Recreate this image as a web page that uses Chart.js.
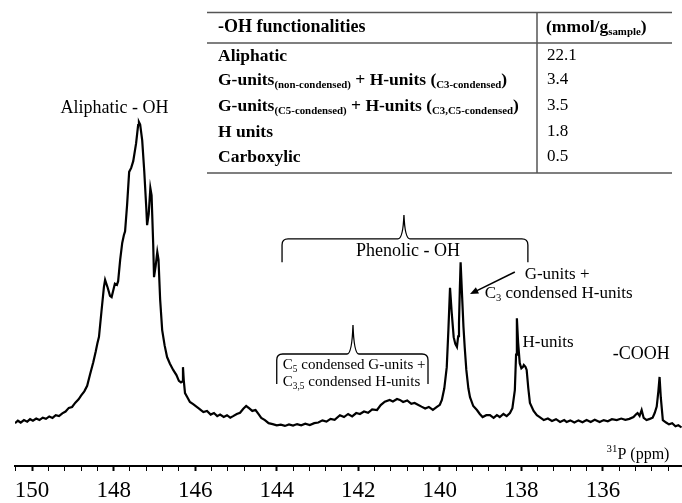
<!DOCTYPE html>
<html lang="en">
<head>
<meta charset="UTF-8">
<title>31P NMR spectrum</title>
<script src="https://cdn.jsdelivr.net/npm/chart.js"></script>
<style>
  html, body { margin: 0; padding: 0; background: #fff; }
  #wrap { width: 682px; height: 503px; }
</style>
</head>
<body>
<div id="wrap"><canvas id="nmrChart" width="682" height="503"></canvas></div>
<script>
// chemical shift (ppm) and relative intensity
const ppm = [
  150.42, 150.35, 150.28, 150.20, 150.12, 150.05, 149.98, 149.90, 149.82, 149.74,
  149.66, 149.58, 149.50, 149.42, 149.34, 149.26, 149.18, 149.10, 149.02, 148.94,
  148.86, 148.80, 148.72, 148.65, 148.58, 148.50, 148.44, 148.40, 148.36, 148.30,
  148.24, 148.21, 148.15, 148.09, 148.05, 148.00, 147.97, 147.92, 147.89, 147.84,
  147.79, 147.75, 147.72, 147.67, 147.62, 147.57, 147.52, 147.45, 147.40, 147.38,
  147.35, 147.30, 147.25, 147.20, 147.18, 147.14, 147.10, 147.07, 147.03, 147.01,
  146.97, 146.93, 146.90, 146.86, 146.81, 146.75, 146.69, 146.62, 146.54, 146.46,
  146.40, 146.35, 146.32, 146.30, 146.28, 146.25, 146.19, 146.13, 146.05, 145.97,
  145.89, 145.80, 145.71, 145.62, 145.54, 145.46, 145.39, 145.30, 145.22, 145.14,
  145.07, 144.98, 144.90, 144.82, 144.75, 144.68, 144.60, 144.52, 144.45, 144.38,
  144.29, 144.20, 144.10, 144.00, 143.90, 143.80, 143.70, 143.60, 143.50, 143.40,
  143.30, 143.19, 143.08, 142.98, 142.88, 142.78, 142.68, 142.58, 142.45, 142.35,
  142.25, 142.15, 142.05, 141.96, 141.86, 141.76, 141.66, 141.54, 141.45, 141.35,
  141.23, 141.15, 141.05, 140.98, 140.90, 140.80, 140.70, 140.62, 140.56, 140.45,
  140.36, 140.27, 140.17, 140.08, 140.00, 139.95, 139.89, 139.83, 139.79, 139.75,
  139.71, 139.66, 139.62, 139.58, 139.55, 139.53, 139.51, 139.49, 139.46, 139.42,
  139.39, 139.35, 139.30, 139.26, 139.18, 139.09, 139.02, 138.95, 138.86, 138.77,
  138.68, 138.60, 138.53, 138.44, 138.36, 138.28, 138.22, 138.16, 138.13, 138.11,
  138.08, 138.04, 138.00, 137.96, 137.94, 137.90, 137.87, 137.83, 137.79, 137.70,
  137.62, 137.55, 137.45, 137.35, 137.25, 137.15, 137.05, 136.95, 136.89, 136.80,
  136.70, 136.60, 136.50, 136.40, 136.30, 136.20, 136.08, 135.98, 135.88, 135.78,
  135.66, 135.55, 135.45, 135.35, 135.25, 135.18, 135.15, 135.10, 135.05, 135.00,
  134.93, 134.85, 134.78, 134.73, 134.68, 134.64, 134.61, 134.58, 134.53, 134.45,
  134.38, 134.30, 134.22, 134.15, 134.07
];
const intensity = [
  1.6, 2.4, 1.8, 2.6, 2.1, 2.9, 2.4, 3.1, 2.6, 3.4,
  3.0, 3.8, 3.3, 4.2, 3.9, 4.8, 5.4, 6.6, 6.9, 8.3,
  9.4, 10.6, 12.0, 13.8, 17.5, 21.5, 25.0, 27.6, 29.8, 38.0,
  46.0, 48.4, 46.0, 43.2, 42.8, 45.5, 47.2, 46.8, 48.0, 55.0,
  60.5, 63.0, 64.3, 73.0, 83.7, 85.0, 87.2, 93.0, 99.0, 100.0,
  99.2, 94.0, 84.0, 72.0, 66.3, 70.0, 78.4, 76.0, 60.0, 49.3,
  53.0, 57.5, 55.0, 42.0, 32.0, 27.0, 23.2, 21.0, 19.0, 17.3,
  15.4, 14.9, 15.2, 19.9, 15.5, 11.4, 10.0, 8.5, 7.8, 7.0,
  6.2, 5.2, 5.6, 4.4, 4.9, 3.9, 4.4, 3.6, 4.2, 3.4,
  3.9, 4.6, 5.0, 6.3, 7.2, 6.5, 5.6, 5.9, 4.6, 3.3,
  2.6, 1.6, 1.3, 0.9, 1.1, 0.7, 1.2, 0.8, 1.3, 0.9,
  1.4, 1.0, 1.6, 1.8, 2.5, 2.1, 3.0, 2.7, 4.2, 3.6,
  4.6, 3.8, 4.9, 4.6, 5.4, 5.0, 6.1, 5.9, 7.5, 8.6,
  9.2, 8.7, 9.5, 9.2, 8.5, 9.0, 7.9, 8.2, 7.8, 7.0,
  6.4, 6.9, 5.9, 6.8, 7.6, 9.2, 13.0, 19.9, 32.0, 45.8,
  38.0, 29.7, 27.5, 26.5, 30.0, 34.3, 45.0, 54.2, 45.0, 33.0,
  26.5, 19.0, 13.0, 10.1, 7.2, 5.9, 4.6, 3.6, 4.2, 4.2,
  3.3, 4.2, 3.6, 4.6, 3.9, 4.9, 6.5, 12.4, 24.0, 35.9,
  28.0, 21.2, 19.5, 20.0, 20.6, 20.0, 19.0, 13.0, 8.2, 5.6,
  4.2, 3.6, 2.6, 3.1, 2.3, 2.9, 2.0, 2.6, 2.0, 2.5,
  1.8, 2.5, 1.9, 2.6, 2.0, 2.7, 2.0, 2.6, 2.2, 2.9,
  2.6, 3.1, 2.7, 3.0, 3.6, 4.6, 4.9, 4.0, 5.9, 3.3,
  2.6, 3.0, 3.4, 4.9, 7.0, 12.0, 16.7, 10.0, 2.6, 1.8,
  1.2, 1.6, 0.6, 0.9, 0.2
];
const majorTicks = [150, 148, 146, 144, 142, 140, 138, 136];

// inset table: _{..} marks a subscript
const tableHeader = ['-OH functionalities', '(mmol/g_{sample})'];
const tableRows = [
  'Aliphatic',
  'G-units_{(non-condensed)} + H-units (_{C3-condensed})',
  'G-units_{(C5-condensed)} + H-units (_{C3,C5-condensed})',
  'H units',
  'Carboxylic'
];
const tableValues = ['22.1', '3.4', '3.5', '1.8', '0.5'];

const SERIF = '"Liberation Serif", "Times New Roman", serif';

// minor ticks every 0.4 ppm, majors every 2 ppm
const tickList = [];
for (let k = 0; 150.4 - 0.4 * k >= 134.06; k++) {
  tickList.push(Math.round((150.4 - 0.4 * k) * 10) / 10);
}

function drawRich(ctx, text, x, y, size, weight, align) {
  const parts = text.split(/(_\{[^}]*\}|\^\{[^}]*\})/).filter(s => s.length);
  const items = parts.map(s => {
    if (s.startsWith('_{')) return { t: s.slice(2, -1), size: size * 0.62, dy: size * 0.28 };
    if (s.startsWith('^{')) return { t: s.slice(2, -1), size: size * 0.68, dy: -size * 0.36 };
    return { t: s, size: size, dy: 0 };
  });
  let total = 0;
  items.forEach(it => {
    ctx.font = weight + ' ' + it.size + 'px ' + SERIF;
    it.w = ctx.measureText(it.t).width;
    total += it.w;
  });
  let cx = align === 'center' ? x - total / 2 : x;
  ctx.textAlign = 'left';
  ctx.textBaseline = 'middle';
  items.forEach(it => {
    ctx.font = weight + ' ' + it.size + 'px ' + SERIF;
    ctx.fillText(it.t, cx, y + it.dy);
    cx += it.w;
  });
}

function brace(ctx, left, right, center, top, bar, bottom) {
  const r = 6;
  ctx.beginPath();
  ctx.moveTo(left, bottom);
  ctx.lineTo(left, bar + r);
  ctx.quadraticCurveTo(left, bar, left + r, bar);
  ctx.lineTo(center - 6, bar);
  ctx.quadraticCurveTo(center - 1, bar, center, top);
  ctx.quadraticCurveTo(center + 1, bar, center + 6, bar);
  ctx.lineTo(right - r, bar);
  ctx.quadraticCurveTo(right, bar, right, bar + r);
  ctx.lineTo(right, bottom);
  ctx.stroke();
}

const annotations = {
  id: 'annotations',
  afterDraw(chart) {
    const { ctx, scales: { x, y } } = chart;
    const px = v => x.getPixelForValue(v);
    const py = v => y.getPixelForValue(v);
    ctx.save();
    ctx.fillStyle = '#000';
    ctx.strokeStyle = '#000';

    // peak labels
    drawRich(ctx, 'Aliphatic - OH', px(147.98), py(104.6), 18, 'normal', 'center');
    ctx.lineWidth = 1.3;
    brace(ctx, px(143.87), px(137.84), px(140.88), py(69.6), py(61.8), py(54.2));
    drawRich(ctx, 'Phenolic - OH', px(140.78), py(57.8), 18, 'normal', 'center');

    brace(ctx, px(144.0), px(140.29), px(142.13), py(33.7), py(24.2), py(14.4));
    drawRich(ctx, 'C_{5} condensed G-units +', px(143.85), py(20.6), 15, 'normal', 'left');
    drawRich(ctx, 'C_{3,5} condensed H-units', px(143.85), py(15.0), 15, 'normal', 'left');

    drawRich(ctx, 'G-units +', px(137.92), py(50.3), 17, 'normal', 'left');
    drawRich(ctx, 'C_{3} condensed H-units', px(138.90), py(44.1), 17, 'normal', 'left');
    // arrow to the G-units peak
    const x0 = px(138.16), y0 = py(51.0), x1 = px(139.26), y1 = py(43.8);
    const ang = Math.atan2(y1 - y0, x1 - x0);
    ctx.lineWidth = 1.5;
    ctx.beginPath();
    ctx.moveTo(x0, y0);
    ctx.lineTo(x1 - 5 * Math.cos(ang), y1 - 5 * Math.sin(ang));
    ctx.stroke();
    ctx.beginPath();
    ctx.moveTo(x1, y1);
    ctx.lineTo(x1 - 9 * Math.cos(ang - 0.4), y1 - 9 * Math.sin(ang - 0.4));
    ctx.lineTo(x1 - 9 * Math.cos(ang + 0.4), y1 - 9 * Math.sin(ang + 0.4));
    ctx.closePath();
    ctx.fill();

    drawRich(ctx, 'H-units', px(137.97), py(28.1), 17, 'normal', 'left');
    drawRich(ctx, '-COOH', px(135.76), py(24.2), 18, 'normal', 'left');
    drawRich(ctx, '^{31}P (ppm)', px(135.91), py(-8.8), 16, 'normal', 'left');

    // inset table
    const tl = 207, tr = 672, colX = 537;
    const rowY = [56, 80, 106, 132, 157];
    ctx.strokeStyle = '#555';
    ctx.lineWidth = 1.5;
    ctx.beginPath();
    ctx.moveTo(tl, 12.5); ctx.lineTo(tr, 12.5);
    ctx.moveTo(tl, 43); ctx.lineTo(tr, 43);
    ctx.moveTo(tl, 173); ctx.lineTo(tr, 173);
    ctx.moveTo(colX, 12.5); ctx.lineTo(colX, 173);
    ctx.stroke();
    drawRich(ctx, tableHeader[0], 218, 27, 18, 'bold', 'left');
    drawRich(ctx, tableHeader[1], 546, 27, 17.5, 'bold', 'left');
    tableRows.forEach((r, i) => {
      drawRich(ctx, r, 218, rowY[i], 17.5, 'bold', 'left');
      drawRich(ctx, tableValues[i], 547, rowY[i], 17, 'normal', 'left');
    });
    ctx.restore();
  }
};

new Chart(document.getElementById('nmrChart'), {
  type: 'line',
  data: {
    datasets: [{
      data: ppm.map((p, i) => ({ x: p, y: intensity[i] })),
      borderColor: '#000',
      borderWidth: 2.2,
      pointRadius: 0,
      tension: 0,
      fill: false
    }]
  },
  options: {
    responsive: false,
    animation: false,
    layout: { padding: { left: 15, right: 0, top: 10, bottom: 0 } },
    plugins: { legend: { display: false }, tooltip: { enabled: false } },
    scales: {
      x: {
        type: 'linear',
        reverse: true,
        min: 134.06,
        max: 150.42,
        afterBuildTicks: s => {
          s.ticks = tickList.map(v => ({ value: v, major: majorTicks.includes(v) }));
        },
        afterFit: s => { s.height = 37; },
        ticks: {
          autoSkip: false,
          maxRotation: 0,
          padding: 6,
          color: '#000',
          font: { family: SERIF, size: 23 },
          callback: v => majorTicks.includes(v) ? String(v) : ''
        },
        grid: {
          drawOnChartArea: false,
          tickLength: 5,
          tickColor: '#000',
          tickWidth: c => (c.tick && c.tick.major) ? 2 : 1
        },
        border: { display: true, color: '#000', width: 2 }
      },
      y: { display: false, min: -12.4, max: 136.6 }
    }
  },
  plugins: [annotations]
});
</script>
</body>
</html>
